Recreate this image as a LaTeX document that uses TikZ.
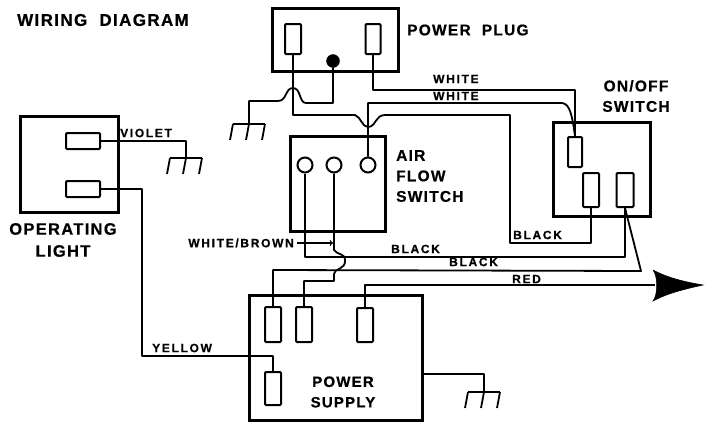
\documentclass[tikz,border=0pt]{standalone}
\usepackage{fontspec}
\setmainfont{Liberation Sans}
\newfontfamily\bigletters[LetterSpace=8,FakeBold=0.6]{Liberation Sans}
\newfontfamily\smallletters[LetterSpace=14,FakeBold=0.6]{Liberation Sans}
\usetikzlibrary{positioning}

\tikzset{
    wire/.style={line width=1.8pt,line join=round},
    unit/.style={draw=black,rectangle,line width=3pt,inner sep=0pt},
    terminal/.style={draw=black,rectangle,line width=2pt,rounded corners=1pt,inner sep=0pt},
    contact/.style={draw=black,circle,line width=2pt,inner sep=0pt,minimum size=15pt},
    biglabel/.style={font=\bigletters\bfseries\fontsize{15.5}{20.5}\selectfont,align=center,inner sep=0pt},
    smalllabel/.style={font=\smallletters\bfseries\fontsize{12}{13}\selectfont,inner sep=0pt}
}

\begin{document}
\begin{tikzpicture}[x=1pt,y=-1pt]
    \useasboundingbox (0,0) rectangle (711,423);

    % units
    \foreach \name/\x/\y/\w/\h in {plug/335/40/126/63, flow/337.5/183.5/95/95, onoff/602/169/97/94, lamp/69/164/98/96, supply/335.5/357.5/173/125}{
        \node[unit,minimum width=\w pt,minimum height=\h pt] (\name) at (\x,\y) {};
    }

    % terminals
    \foreach \name/\x/\y/\w/\h in {plugA/293/39/16/30, plugB/373/39/15/30, onoffA/575/152/14/30, onoffB/591/190/16/34, onoffC/625/190/17/34, lampA/83/141/34/16, lampB/83/189/34/16, supplyA/273/324.5/16/35, supplyB/304/324.5/16/35, supplyC/365/325/16/34, supplyD/273/388.5/16/33}{
        \node[terminal,minimum width=\w pt,minimum height=\h pt] (\name) at (\x,\y) {};
    }

    \foreach \name/\x in {flowA/305,flowB/334,flowC/368}{
        \node[contact] (\name) at (\x,165) {};
    }
    \node[draw=black,fill=black,circle,minimum size=13pt,inner sep=0pt] (earth) at (333,61) {};

    % grounds
    \foreach \name/\x/\y in {gndA/249/124, gndB/186/158, gndC/484/392}{
        \coordinate (\name) at (\x,\y);
        \draw[wire] (\x-16,\y) -- (\x+16,\y);
        \foreach \t in {-16,0,16}{
            \draw[wire] (\x+\t,\y) -- (\x+\t-3,\y+16);
        }
    }

    % wiring
    \draw[wire] (earth.south) -- (333,103) -- (306,103) .. controls (299,103) and (301,88) .. (293,88) .. controls (285,88) and (287,101) .. (278,101) -- (249,101) -- (gndA);
    \draw[wire] (plugA.south) -- (293,115) -- (355,115) .. controls (361,117) and (362,127) .. (368,127) .. controls (376,127) and (375,115) .. (385,115) -- (510,115) -- (510,243) -- (591,243) -- (onoffB.south);
    \draw[wire] (plugB.south) -- (373,90) -- (575,90) -- (onoffA.north);
    \draw[wire] (flowC.north) -- (368,103) -- (562,103) .. controls (570,104) and (572,115) .. (onoffA.north);
    \draw[wire] (flowA.south) -- (305,257) -- (625,257) -- (onoffC.south);
    \draw[wire] (supplyA.north) -- (273,270) -- (641,271) -- (onoffC.south);
    \draw[wire] (flowB.south) -- (334,250) .. controls (337,255) and (345,253) .. (345,260) .. controls (346,270) and (334,268) .. (334,274) -- (334,281) -- (304,281) -- (supplyB.north);
    \draw[wire] (supplyC.north) -- (365,285) -- (655,285);
    \draw[wire] (lampA.east) -- (186,141) -- (gndB);
    \draw[wire] (lampB.east) -- (142,189) -- (142,356) -- (273,356) -- (supplyD.north);
    \draw[wire] (supply.east |- 0,374) -- (484,374) -- (gndC);

    \node[inner sep=0pt,minimum size=0pt] (redend) at (703,285) {};
    \draw[fill=black,line width=.6pt] (653,270) .. controls (668,278) and (685,282) .. (redend.center) .. controls (685,289) and (668,293) .. (653,301) .. controls (658,295) and (658,276) .. (653,270);

    % labels
    \node[biglabel,font=\bigletters\bfseries\fontsize{17}{20}\selectfont,anchor=west] (title) at (17,20) {WIRING\ \ DIAGRAM};
    \node[biglabel,anchor=west] (plugtext) at (407,30) {POWER\ \ PLUG};
    \node[biglabel,anchor=west,align=left] (flowtext) at (396,176) {AIR\\FLOW\\SWITCH};
    \node[biglabel] (onofftext) at (636,96) {ON/OFF\\SWITCH};
    \node[biglabel,font=\bigletters\bfseries\fontsize{16.5}{22}\selectfont] (lamptext) at (63,240) {OPERATING\\LIGHT};
    \node[biglabel,font=\bigletters\bfseries\fontsize{15}{20.5}\selectfont] (supplytext) at (343,392) {POWER\\SUPPLY};

    \node[smalllabel,anchor=west] at (433,79) {WHITE};
    \node[smalllabel,anchor=west] at (433,96) {WHITE};
    \node[smalllabel,anchor=west] at (513,235) {BLACK};
    \node[smalllabel,anchor=west] at (391,249) {BLACK};
    \node[smalllabel,anchor=west] at (449,262) {BLACK};
    \node[smalllabel,anchor=west] at (512,279) {RED};
    \node[smalllabel,anchor=west] at (152,348) {YELLOW};
    \node[smalllabel,anchor=west] at (120,133) {VIOLET};
    \node[smalllabel,anchor=east] (brown) at (294,243) {WHITE/BROWN};
    \draw[line width=1.2pt,->] (brown.east) ++(3,0) -- (333,243);
\end{tikzpicture}
\end{document}
